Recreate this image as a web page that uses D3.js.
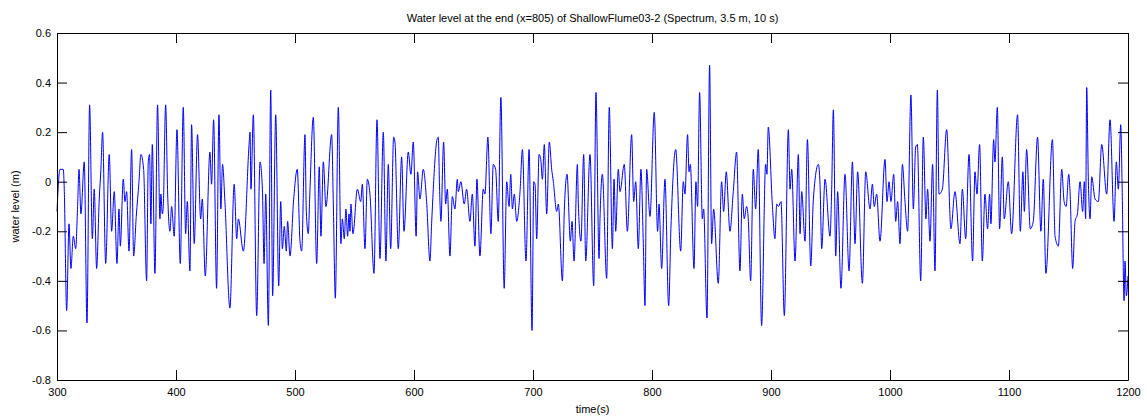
<!DOCTYPE html>
<html>
<head>
<meta charset="utf-8">
<script src="https://cdn.jsdelivr.net/npm/d3@7"></script>
<style>
  body { margin: 0; background: #fff; }
  text { font-family: "Liberation Sans", Arial, sans-serif; }
</style>
</head>
<body>
<div id="chart"></div>
<script>
// water level extrema (time in s, level in m)
var times = [
  300, 302.5, 305.3, 306.1, 308.1, 310.1, 311.7, 313.7, 315.7, 317.3, 318.5, 320.1, 322.9, 325.2, 327.4, 329.7,
  331.3, 333.3, 335.5, 336.9, 338.3, 340.9, 343.9, 345.9, 348.1, 350.4, 352.1, 353.2, 355.7, 357.1, 358.5, 360.5,
  362.7, 364.4, 366.6, 368.9, 370.5, 372.8, 375.3,
  376.7, 377.8, 378.9, 380.1, 382.3, 384.5, 386.5, 387.3, 388.5, 389.3, 391.3, 393.0, 394.9, 396.3, 398.5, 400.8,
  403.6, 406.1, 408.1, 409.5, 411.7, 413.1, 415.3, 418.1, 420.7, 422.1, 424.6, 428.5, 429.9, 431.6, 434.1, 436.1,
  437.7, 439.1, 441.1, 445.3, 448.9,
  451.0, 452.4, 456.6, 461.4, 462.2, 463.0, 465.0, 467.8, 470.6, 472.6, 474.0, 475.4, 477.6, 479.6, 481.2, 483.8,
  486.3, 488.0, 489.4, 491.0, 492.7, 493.8, 495.8, 498.9, 501.9, 504.2, 505.6, 508.4, 509.5, 511.2, 512.3, 515.4,
  518.2, 520.4, 521.8, 523.8, 526.0,
  530.8, 532.2, 533.9, 536.4, 538.6, 539.8, 541.4, 542.8, 544.2, 545.4, 546.2, 547.0, 548.7, 552.4, 555.2, 556.6,
  558.8, 560.8, 563.0, 566.4, 568.9, 571.4, 574.2, 576.4, 578.4, 580.4, 582.9, 584.0, 586.8, 589.6, 591.6, 595.2,
  597.4, 599.4,
  601.8, 603.0, 605.0, 607.8, 610.6, 613.4, 614.8, 616.2, 619.3, 620.4, 621.5, 622.6, 624.9, 626.6, 628.0, 630.2,
  632.2, 634.4, 636.4, 637.2, 639.4, 642.2, 644.2, 647.0, 649.0, 651.2, 652.9, 655.4, 658.2, 659.6, 662.1, 664.6,
  666.6, 668.6, 670.8, 673.0, 675.8,
  677.9, 679.9, 681.3, 682.7, 684.3, 686.3, 689.1, 691.1, 694.1, 696.7, 699.2, 700.6, 701.7, 703.1, 705.1, 706.5,
  707.9, 709.5, 711.5, 713.7, 715.7, 717.1, 719.9, 721.3, 724.7, 726.3, 728.6, 731.4, 732.8, 734.5, 737.3, 738.1,
  740.3, 742.6, 744.3, 747.9, 751.0, 752.9,
  755.5, 756.3, 758.3, 761.9, 764.1, 766.7, 768.1, 769.5, 771.7, 773.1, 776.7, 779.3, 782.9, 784.6, 786.3, 788.5,
  790.7, 792.7, 794.1, 795.5, 798.3, 801.9, 804.7, 805.9, 808.1, 810.9, 814.0, 815.9, 819.9, 824.1, 826.3, 827.7,
  829.9, 831.1, 832.2, 835.3, 836.9, 838.3, 840.0, 842.3, 843.4, 846.2, 848.4, 850.1, 851.8, 855.7, 858.5, 860.2,
  862.4, 865.5, 868.3, 871.1, 873.9, 875.9, 877.5, 879.5, 880.9, 882.9, 885.1, 887.1, 889.3, 892.1, 895.5, 896.6,
  897.7, 901.1, 903.3,
  904.8, 906.2, 908.4, 911.2, 914.6, 916.0, 917.4, 920.2, 923.0, 924.4, 925.8, 928.6, 930.6, 933.4, 935.6, 939.8,
  941.2, 942.6, 945.4, 949.6, 951.0, 952.4, 954.4, 956.0, 958.8, 962.2, 965.6, 968.4, 970.6, 972.8, 976.8, 979.6,
  983.2, 985.2, 986.8, 988.8, 991.6, 995.8, 997.5, 999.2, 1000.8, 1003.1, 1004.8, 1006.4, 1008.4, 1010.4, 1012.6, 1014.8,
  1017.6, 1019.6, 1021.6, 1023.0, 1025.8, 1028.0, 1030.2, 1031.6, 1033.6, 1035.8, 1037.8, 1039.8, 1041.2, 1044.0, 1047.6, 1051.2,
  1054.6,
  1058.8, 1060.8, 1063.6, 1066.4, 1069.4, 1071.4, 1073.1, 1075.3, 1077.6, 1079.8, 1082.0, 1083.7, 1084.8, 1087.1, 1088.2, 1090.2,
  1092.1, 1094.4, 1096.0, 1099.4, 1102.2, 1107.2, 1109.5, 1111.7, 1112.9, 1114.8, 1117.9, 1120.4, 1124.0, 1126.8, 1128.8, 1131.0,
  1136.5, 1138.7, 1141.5, 1144.3, 1146.3, 1148.0, 1150.2, 1151.3, 1153.5, 1155.5, 1157.5, 1159.7, 1161.9, 1163.3, 1164.4, 1165.3,
  1166.7, 1168.1, 1169.5, 1172.3, 1175.1, 1177.9, 1182.1, 1184.9, 1188.3, 1190.2, 1191.9, 1193.9, 1195.0, 1196.7, 1197.5, 1198.6,
  1200
];
var levels = [
  -0.12, 0.05, 0.05, -0.03, -0.52, -0.17, -0.35, -0.22, -0.27, -0.10, 0.05, -0.13, 0.08, -0.57, 0.31, -0.23,
  -0.03, -0.35, -0.07, 0.05, 0.20, -0.33, 0.11, -0.20, -0.04, -0.33, -0.11, -0.26, 0.01, -0.08, -0.04, -0.28,
  0.13, -0.30, -0.14, 0.0, 0.11, 0.05, -0.40,
  0.08, 0.11, -0.17, 0.15, -0.37, 0.31, -0.15, -0.05, -0.13, -0.10, 0.31, -0.05, -0.20, -0.10, -0.22, 0.21,
  -0.33, 0.30, -0.21, -0.08, -0.36, 0.23, -0.25, 0.19, -0.15, -0.07, -0.38, 0.12, -0.01, 0.25, -0.43, 0.27,
  -0.11, 0.07, -0.08, -0.51, -0.01,
  -0.23, -0.15, -0.28, 0.15, 0.20, -0.03, 0.27, -0.54, 0.08, -0.03, -0.33, -0.05, -0.58, 0.37, -0.46, 0.27,
  -0.42, -0.08, -0.27, -0.18, -0.28, -0.16, -0.30, -0.07, 0.05, -0.24, -0.28, 0.19, -0.12, -0.21, -0.07, 0.26,
  -0.33, 0.06, -0.22, 0.08, -0.10,
  0.19, -0.09, -0.47, 0.30, -0.25, -0.15, -0.23, -0.11, -0.22, -0.13, -0.20, -0.09, -0.21, -0.03, -0.08, -0.01,
  -0.27, 0.01, -0.05, -0.37, 0.25, -0.31, 0.20, -0.32, 0.07, -0.27, 0.18, 0.16, -0.27, 0.10, -0.20, 0.12,
  0.03, 0.16,
  -0.22, 0.04, -0.07, 0.05, -0.08, -0.32, -0.17, -0.03, 0.17, 0.18, -0.03, -0.16, 0.16, -0.09, -0.03, -0.30,
  -0.06, -0.11, 0.01, -0.04, 0.0, -0.09, -0.03, -0.16, -0.05, -0.26, 0.01, -0.30, -0.03, -0.05, 0.18, -0.21,
  0.07, 0.05, -0.16, 0.34, -0.43,
  0.0, -0.10, 0.03, -0.11, -0.05, -0.16, -0.04, 0.13, -0.32, 0.13, -0.60, 0.0, -0.01, -0.23, 0.11, 0.09,
  0.01, 0.15, -0.13, 0.16, 0.05, 0.0, -0.12, -0.09, -0.40, -0.12, 0.03, -0.24, -0.16, -0.32, 0.07, -0.09,
  -0.24, 0.11, -0.32, 0.11, -0.42, 0.36,
  -0.31, -0.15, 0.03, -0.39, 0.30, -0.27, 0.01, -0.20, 0.05, -0.04, 0.07, -0.20, 0.19, -0.08, 0.0, -0.27,
  0.05, -0.25, -0.50, 0.05, -0.14, 0.28, -0.20, -0.09, -0.35, 0.01, -0.50, -0.19, 0.13, -0.28, 0.0, -0.05,
  0.19, 0.04, 0.07, -0.35, 0.0, -0.10, 0.36, -0.15, -0.11, -0.55, 0.47, -0.25, -0.11, -0.41, 0.0, -0.12,
  0.04, -0.20, -0.04, 0.12, -0.36, -0.05, -0.15, -0.10, -0.15, -0.40, 0.05, -0.11, 0.13, -0.58, 0.07, 0.03,
  0.22, -0.09, -0.23,
  -0.09, -0.10, -0.08, -0.54, 0.21, -0.03, 0.05, -0.32, 0.11, -0.21, -0.04, -0.24, 0.17, -0.34, -0.07, 0.07,
  -0.01, -0.27, 0.01, -0.22, -0.03, 0.29, -0.30, -0.04, -0.43, 0.03, -0.36, 0.08, -0.25, 0.04, -0.41, 0.04,
  -0.11, -0.01, -0.10, -0.05, -0.24, 0.09, -0.08, 0.0, -0.08, 0.03, -0.16, -0.08, -0.25, 0.07, -0.08, -0.20,
  0.35, -0.11, 0.14, 0.15, -0.40, 0.18, -0.15, -0.03, -0.24, 0.07, -0.36, 0.37, -0.05, -0.03, 0.21, -0.19,
  -0.04,
  -0.25, -0.03, -0.23, 0.11, -0.32, 0.04, -0.05, 0.15, -0.32, -0.05, -0.19, -0.05, -0.17, 0.17, 0.08, 0.30,
  -0.19, 0.10, -0.15, 0.0, -0.21, 0.27, -0.20, 0.04, -0.12, 0.13, -0.19, -0.16, 0.18, -0.20, 0.01, -0.37,
  0.17, -0.22, -0.26, 0.05, -0.08, -0.10, 0.03, -0.04, -0.35, -0.16, -0.13, 0.0, -0.12, 0.0, -0.15, 0.38,
  0.0, -0.15, 0.02, -0.07, -0.08, 0.15, -0.05, 0.25, -0.16, 0.08, -0.03, 0.23, 0.0, -0.48, -0.32, -0.46,
  -0.38
];
var xTicks = [300, 400, 500, 600, 700, 800, 900, 1000, 1100, 1200];
var yTicks = [-0.8, -0.6, -0.4, -0.2, 0, 0.2, 0.4, 0.6];

var width = 1147, height = 417;
var margin = {top: 33, right: 19, bottom: 37, left: 57};
var w = width - margin.left - margin.right;
var h = height - margin.top - margin.bottom;

var svg = d3.select("#chart").append("svg")
    .attr("width", width)
    .attr("height", height)
    .style("background", "#fff");

var g = svg.append("g")
    .attr("transform", "translate(" + margin.left + "," + margin.top + ")");

var x = d3.scaleLinear().domain([300, 1200]).range([0, w]);
var y = d3.scaleLinear().domain([-0.8, 0.6]).range([h, 0]);

var data = times.map(function (t, i) { return [t, levels[i]]; });

g.append("path")
    .datum(data)
    .attr("fill", "none")
    .attr("stroke", "#0000ff")
    .attr("stroke-width", 1)
    .attr("d", d3.line()
        .curve(d3.curveMonotoneX)
        .x(function (d) { return x(d[0]); })
        .y(function (d) { return y(d[1]); }));

function styleAxis(sel) {
    sel.selectAll("path").attr("stroke", "#000");
    sel.selectAll("line").attr("stroke", "#000");
    sel.selectAll("text").attr("font-size", "11px").attr("fill", "#000")
        .style("font-family", "'Liberation Sans', Arial, sans-serif");
}

g.append("g")
    .attr("transform", "translate(0," + h + ")")
    .call(d3.axisBottom(x).tickValues(xTicks).tickSizeInner(-10).tickSizeOuter(0).tickPadding(8)
        .tickFormat(d3.format("d")))
    .call(styleAxis);

g.append("g")
    .call(d3.axisTop(x).tickValues(xTicks).tickSizeInner(-10).tickSizeOuter(0).tickFormat(""))
    .call(styleAxis);

g.append("g")
    .call(d3.axisLeft(y).tickValues(yTicks).tickSizeInner(-10).tickSizeOuter(0).tickPadding(6)
        .tickFormat(function (d) { return d === 0 ? "0" : d3.format(".1f")(d).replace("\u2212", "-"); }))
    .call(styleAxis);

g.append("g")
    .attr("transform", "translate(" + w + ",0)")
    .call(d3.axisRight(y).tickValues(yTicks).tickSizeInner(-10).tickSizeOuter(0).tickFormat(""))
    .call(styleAxis);

svg.append("text")
    .attr("x", margin.left + w / 2)
    .attr("y", 22)
    .attr("text-anchor", "middle")
    .attr("font-size", "11px")
    .text("Water level at the end (x=805) of ShallowFlume03-2 (Spectrum, 3.5 m, 10 s)");

svg.append("text")
    .attr("x", margin.left + w / 2)
    .attr("y", 413)
    .attr("text-anchor", "middle")
    .attr("font-size", "11px")
    .text("time(s)");

svg.append("text")
    .attr("transform", "translate(19," + (margin.top + h / 2) + ") rotate(-90)")
    .attr("text-anchor", "middle")
    .attr("font-size", "11px")
    .text("water level (m)");
</script>
</body>
</html>
